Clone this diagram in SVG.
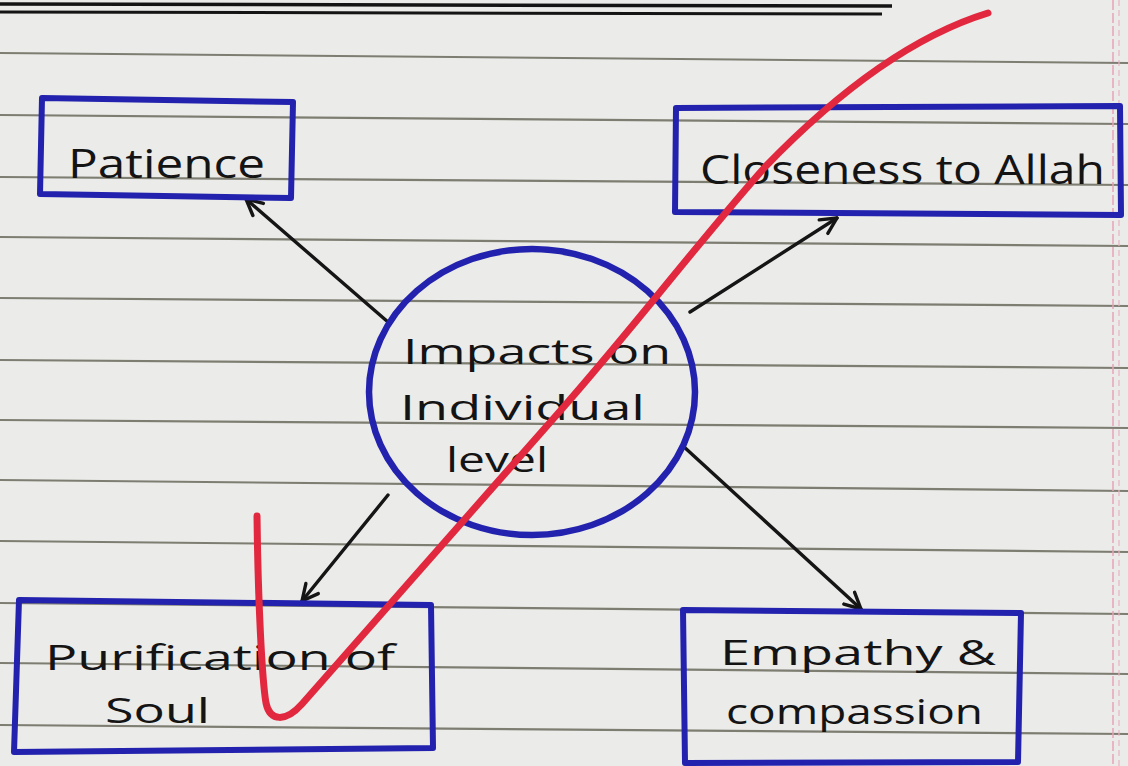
<svg xmlns="http://www.w3.org/2000/svg" width="1128" height="766" viewBox="0 0 1128 766">
  <style>
    .rule { stroke: #7d7d72; stroke-width: 2.2; fill: none; }
    .box { fill: none; stroke: #2222ae; stroke-width: 6; stroke-linejoin: round; }
    .lbl { font-family: "Open Sans", "Liberation Sans", sans-serif; font-size: 40px; fill: #141414; }
    .lbl2 { font-family: "Open Sans", "Liberation Sans", sans-serif; font-size: 35px; fill: #141414; }
    .conn { stroke: #151515; stroke-width: 3.4; fill: none; stroke-linecap: round; }
  </style>
  <defs>
    <marker id="arrow" viewBox="0 0 20 20" refX="18" refY="10" markerWidth="20" markerHeight="20" markerUnits="userSpaceOnUse" orient="auto">
      <polyline points="2,2 18,10 2,18" fill="none" stroke="#151515" stroke-width="3.4" stroke-linecap="round" stroke-linejoin="round"/>
    </marker>
  </defs>

  <!-- paper -->
  <rect x="0" y="0" width="1128" height="766" fill="#ebebe9"/>

  <!-- ruled lines -->
  <g id="rules">
    <line class="rule" x1="0" y1="53" x2="1128" y2="63"/>
    <line class="rule" x1="0" y1="115" x2="1128" y2="124"/>
    <line class="rule" x1="0" y1="177" x2="1128" y2="185"/>
    <line class="rule" x1="0" y1="237" x2="1128" y2="246"/>
    <line class="rule" x1="0" y1="298" x2="1128" y2="306"/>
    <line class="rule" x1="0" y1="360" x2="1128" y2="368"/>
    <line class="rule" x1="0" y1="420" x2="1128" y2="428"/>
    <line class="rule" x1="0" y1="480" x2="1128" y2="491"/>
    <line class="rule" x1="0" y1="541" x2="1128" y2="552"/>
    <line class="rule" x1="0" y1="603" x2="1128" y2="614"/>
    <line class="rule" x1="0" y1="663" x2="1128" y2="674"/>
    <line class="rule" x1="0" y1="725" x2="1128" y2="734"/>
  </g>

  <!-- margin -->
  <line x1="1113" y1="0" x2="1113" y2="766" stroke="#e6a4b6" stroke-width="1.5" stroke-dasharray="10 3"/>
  <line x1="1119" y1="0" x2="1119" y2="766" stroke="#eab2c2" stroke-width="1.2" stroke-dasharray="6 4"/>

  <!-- top double underline -->
  <line x1="0" y1="4" x2="892" y2="6" stroke="#141414" stroke-width="3.5"/>
  <line x1="0" y1="12" x2="882" y2="14" stroke="#141414" stroke-width="3"/>

  <!-- connectors -->
  <g id="connectors">
    <line class="conn" x1="388" y1="322" x2="246" y2="199" marker-end="url(#arrow)"/>
    <line class="conn" x1="690" y1="312" x2="837" y2="218" marker-end="url(#arrow)"/>
    <line class="conn" x1="388" y1="495" x2="302" y2="601" marker-end="url(#arrow)"/>
    <line class="conn" x1="683" y1="446" x2="861" y2="609" marker-end="url(#arrow)"/>
  </g>

  <!-- nodes -->
  <g id="node-patience">
    <path class="box" d="M42,98 L293,102 L291,198 L40,194 Z"/>
    <text class="lbl" x="68" y="178" textLength="197" lengthAdjust="spacingAndGlyphs">Patience</text>
  </g>

  <g id="node-closeness">
    <path class="box" d="M676,108 L1120,106 L1121,215 L675,212 Z"/>
    <text class="lbl" x="700" y="184" textLength="405" lengthAdjust="spacingAndGlyphs">Closeness to Allah</text>
  </g>

  <g id="node-center">
    <ellipse cx="532" cy="392" rx="163" ry="143" fill="none" stroke="#2222ae" stroke-width="6.5"/>
    <text class="lbl2" x="403" y="364" textLength="268" lengthAdjust="spacingAndGlyphs">Impacts on</text>
    <text class="lbl2" x="400" y="420" textLength="245" lengthAdjust="spacingAndGlyphs">Individual</text>
    <text class="lbl2" x="446" y="472" textLength="102" lengthAdjust="spacingAndGlyphs">level</text>
  </g>

  <g id="node-purification">
    <path class="box" d="M19,600 L431,605 L433,748 L14,752 Z"/>
    <text class="lbl2" x="45" y="670" textLength="350" lengthAdjust="spacingAndGlyphs">Purification of</text>
    <text class="lbl2" x="105" y="723" textLength="105" lengthAdjust="spacingAndGlyphs">Soul</text>
  </g>

  <g id="node-empathy">
    <path class="box" d="M683,610 L1021,613 L1018,762 L685,763 Z"/>
    <text class="lbl2" x="720" y="665" textLength="276" lengthAdjust="spacingAndGlyphs">Empathy &amp;</text>
    <text class="lbl2" x="726" y="724" textLength="257" lengthAdjust="spacingAndGlyphs">compassion</text>
  </g>

  <!-- red check mark -->
  <path d="M257,516 C258,600 262,680 266,703 C270,722 286,722 302,704 L561,410 C640,320 700,240 765,167 C820,110 900,40 988,13" fill="none" stroke="#e2283e" stroke-width="7" stroke-linecap="round" stroke-linejoin="round"/>
</svg>
